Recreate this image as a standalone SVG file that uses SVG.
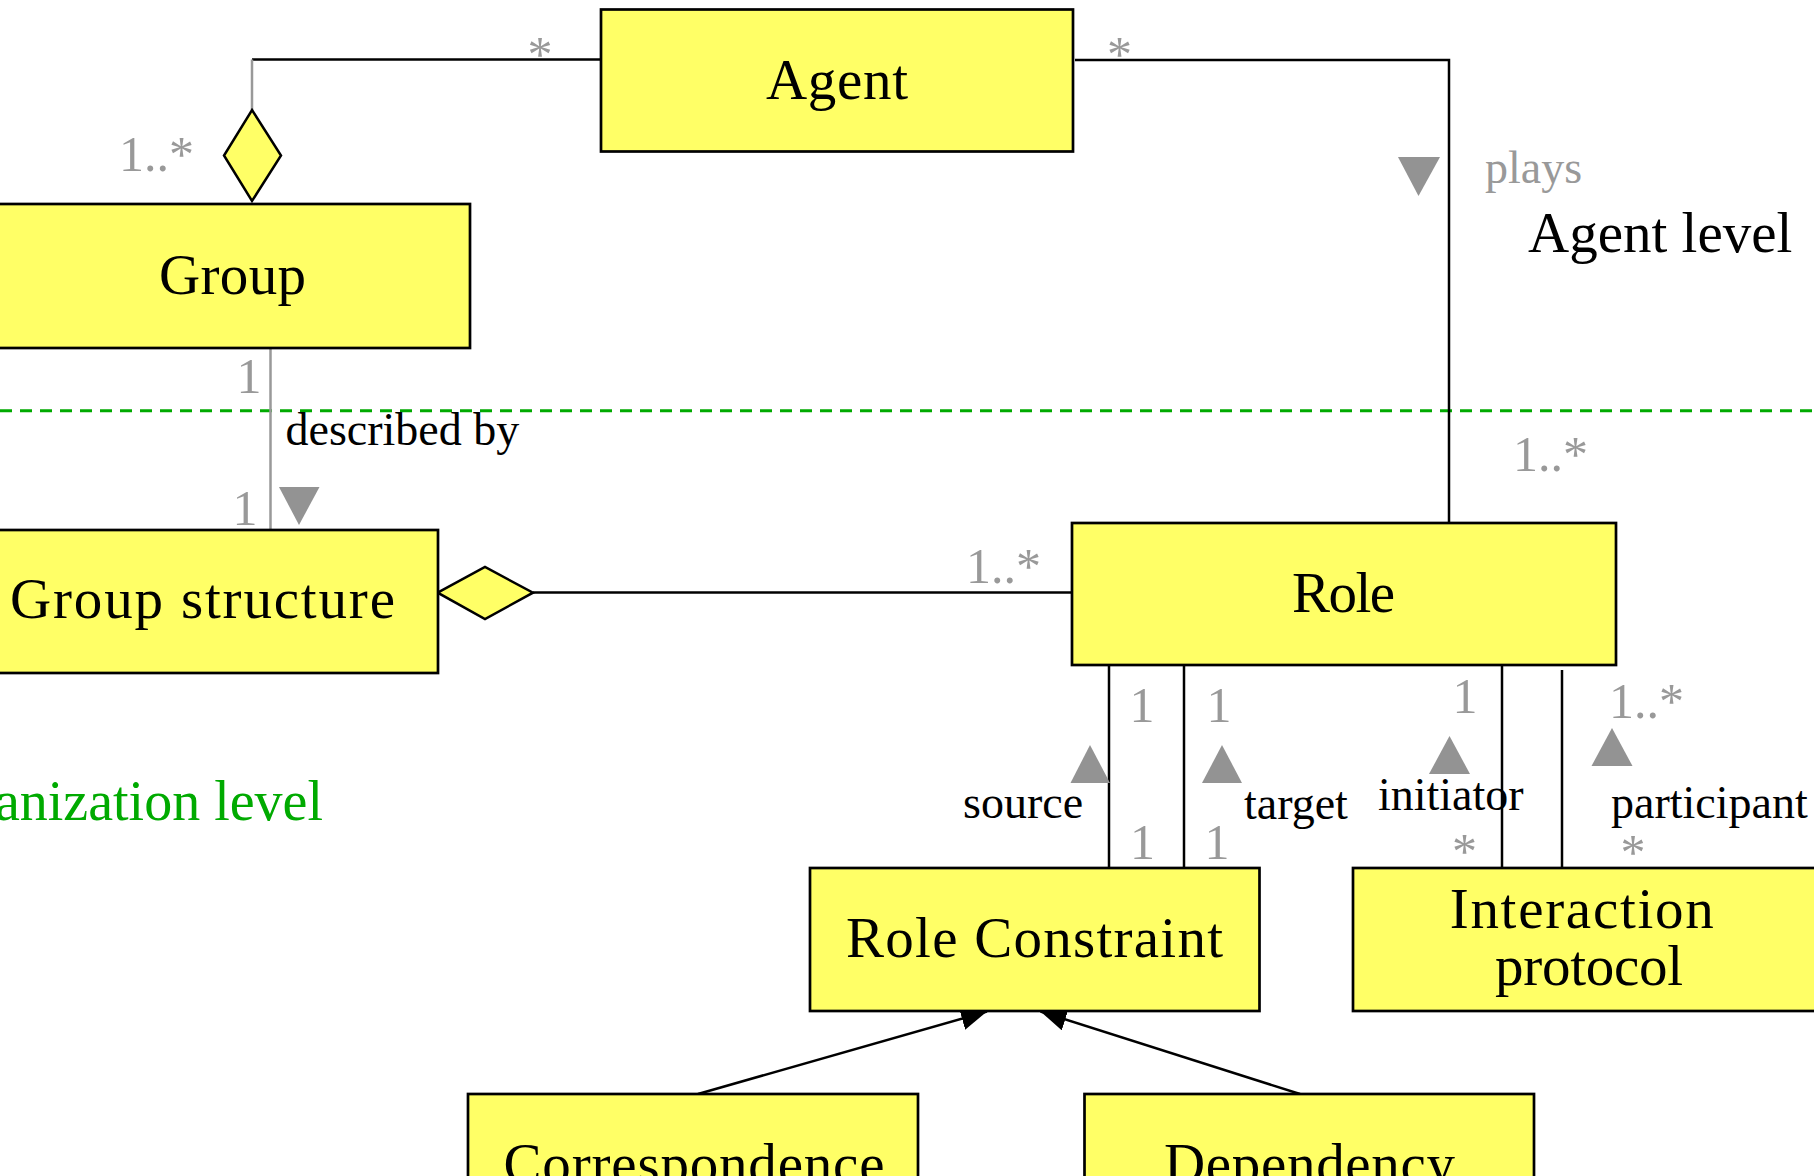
<svg xmlns="http://www.w3.org/2000/svg" width="1814" height="1176" viewBox="0 0 1814 1176">
<style>
.box{fill:#FFFF66;stroke:#000;stroke-width:2.7}
.nt{font-family:"Liberation Serif","DejaVu Serif",serif;font-size:57px;fill:#000}
.lbl{font-family:"Liberation Serif","DejaVu Serif",serif;font-size:46px;fill:#000}
.mult{font-family:"Liberation Serif","DejaVu Serif",serif;font-size:50px;fill:#999}
.ln{stroke:#000;stroke-width:2.5;fill:none}
.gln{stroke:#999;stroke-width:2.5;fill:none}
.tri{fill:#939393}
.dia{fill:#FFFF66;stroke:#000;stroke-width:2.5}
</style>
<defs>
<marker id="arr" markerUnits="userSpaceOnUse" viewBox="0 0 26 23" refX="26" refY="11.5" markerWidth="26" markerHeight="23" orient="auto">
<path d="M0,0 L26,11.5 L0,23 z" fill="#000"/>
</marker>
</defs>
<rect width="1814" height="1176" fill="#fff"/>
<line x1="0" y1="410.7" x2="1814" y2="410.7" stroke="#00AA00" stroke-width="3" stroke-dasharray="12 8"/>
<text x="323" y="820" text-anchor="end" font-family="Liberation Serif, serif" font-size="56" fill="#00AA00">anization level</text>
<text x="1528" y="252" font-family="Liberation Serif, serif" font-size="57" fill="#000">Agent level</text>
<g id="connectors">
<polyline class="ln" points="601,59.5 252,59.5"/>
<line class="gln" x1="252" y1="59.5" x2="252" y2="110"/>
<polygon class="dia" points="252,110 281,155.5 252,201 224,155.5"/>
<polyline class="ln" points="1075,60 1449,60 1449,523"/>
<line class="gln" x1="270.5" y1="348" x2="270.5" y2="536"/>
<line class="ln" x1="533" y1="592.5" x2="1072" y2="592.5"/>
<polygon class="dia" points="437.7,592.7 485,567 533,592.7 485,619"/>
<line class="ln" x1="1109" y1="662" x2="1109" y2="868"/>
<line class="ln" x1="1184" y1="662" x2="1184" y2="868"/>
<line class="ln" x1="1502" y1="662" x2="1502" y2="868"/>
<line class="ln" x1="1562" y1="670" x2="1562" y2="868"/>
<line class="ln" x1="698" y1="1094" x2="987" y2="1011.5" marker-end="url(#arr)"/>
<line class="ln" x1="1300" y1="1094" x2="1040.5" y2="1011.5" marker-end="url(#arr)"/>
<polygon class="tri" points="1398,157 1440,157 1418.5,196"/>
<polygon class="tri" points="279,487 319.5,487 299,525"/>
<polygon class="tri" points="1070.5,783 1110,783 1090,745"/>
<polygon class="tri" points="1202,783 1242,783 1222,745"/>
<polygon class="tri" points="1429,774 1470,774 1449.5,736"/>
<polygon class="tri" points="1591.5,766 1632.5,766 1612,728"/>
<text class="mult" x="540" y="71" text-anchor="middle">*</text>
<text class="mult" x="1119.5" y="71" text-anchor="middle">*</text>
<text class="mult" x="119" y="171">1..*</text>
<text class="mult" x="249" y="393" text-anchor="middle">1</text>
<text class="mult" x="245" y="525" text-anchor="middle">1</text>
<text class="mult" x="966" y="583">1..*</text>
<text class="mult" x="1513" y="471">1..*</text>
<text class="mult" x="1142" y="722" text-anchor="middle">1</text>
<text class="mult" x="1219" y="722" text-anchor="middle">1</text>
<text class="mult" x="1465" y="713" text-anchor="middle">1</text>
<text class="mult" x="1609" y="718">1..*</text>
<text class="mult" x="1142.5" y="859" text-anchor="middle">1</text>
<text class="mult" x="1217" y="859" text-anchor="middle">1</text>
<text class="mult" x="1464.5" y="868" text-anchor="middle">*</text>
<text class="mult" x="1633" y="869" text-anchor="middle">*</text>
<text x="1485" y="183" font-family="Liberation Serif, serif" font-size="46" fill="#999">plays</text>
<text class="lbl" x="285.5" y="445">described by</text>
<text class="lbl" x="963" y="818">source</text>
<text class="lbl" x="1244" y="819">target</text>
<text class="lbl" x="1378" y="810">initiator</text>
<text class="lbl" x="1611" y="818">participant</text>
</g>
<g id="agent"><rect class="box" x="601" y="9.5" width="472" height="142"/><text class="nt" x="837" y="99" text-anchor="middle" textLength="142">Agent</text></g>
<g id="group"><rect class="box" x="-5" y="204" width="475" height="144"/><text class="nt" x="232.5" y="294" text-anchor="middle" textLength="147">Group</text></g>
<g id="group-structure"><rect class="box" x="-33" y="530" width="471" height="143"/><text class="nt" x="10" y="618" textLength="385">Group structure</text></g>
<g id="role"><rect class="box" x="1072" y="523" width="544" height="142"/><text class="nt" x="1343.5" y="612" text-anchor="middle" textLength="103">Role</text></g>
<g id="role-constraint"><rect class="box" x="810" y="868" width="449.5" height="143"/><text class="nt" x="1034.5" y="957" text-anchor="middle" textLength="377">Role Constraint</text></g>
<g id="interaction-protocol"><rect class="box" x="1353" y="868" width="465" height="143"/><text class="nt" x="1581.7" y="928" text-anchor="middle" textLength="264">Interaction</text><text class="nt" x="1589" y="985" text-anchor="middle" textLength="188">protocol</text></g>
<g id="correspondence"><rect class="box" x="468" y="1094" width="450" height="143"/><text class="nt" x="694" y="1183" text-anchor="middle" textLength="381">Correspondence</text></g>
<g id="dependency"><rect class="box" x="1084.5" y="1094" width="449.5" height="143"/><text class="nt" x="1309.5" y="1183" text-anchor="middle" textLength="291">Dependency</text></g>
</svg>
